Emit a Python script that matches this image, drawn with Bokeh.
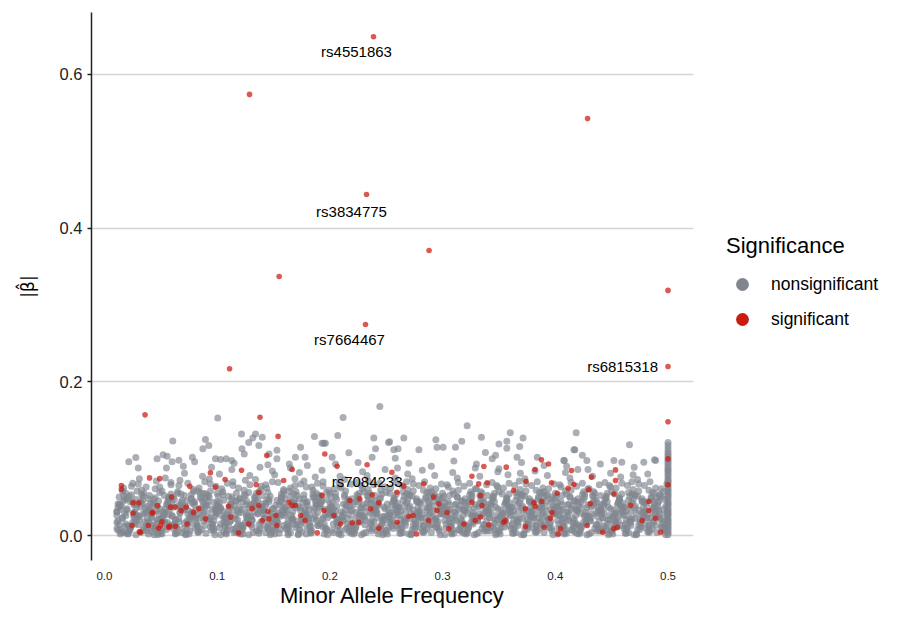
import numpy as np
from bokeh.plotting import figure
from bokeh.layouts import row
from bokeh.models import ColumnDataSource, Legend, LegendItem, FixedTicker, PrintfTickFormatter, Range1d
from bokeh.core.properties import value
from bokeh.embed import file_html
from bokeh.resources import INLINE

FONT = "Liberation Sans"

# ---------------- data ----------------
# dense nonsignificant cloud, values in units of 0.001 (MAF, |beta|)
gray_maf_milli = [
    15, 11, 18, 13, 19, 11, 16, 12, 17, 14, 13, 18, 11, 16, 12, 19, 14, 17,
    22, 27, 20, 25, 29, 23, 28, 21, 26, 24, 29, 22, 27, 20, 25, 23, 28, 26,
    35, 31, 38, 33, 39, 30, 36, 32, 37, 34, 33, 38, 31, 36, 30, 39, 34, 37,
    42, 47, 40, 45, 49, 43, 48, 41, 46, 44, 49, 42, 47, 40, 45, 43, 48, 46,
    55, 51, 58, 53, 59, 50, 56, 52, 57, 54, 53, 58, 51, 56, 50, 59, 54, 57,
    62, 67, 60, 65, 69, 63, 68, 61, 66, 64, 69, 62, 67, 60, 65, 63, 68, 66,
    75, 71, 78, 73, 79, 70, 76, 72, 77, 74, 73, 78, 71, 76, 70, 79, 74, 77,
    82, 87, 80, 85, 89, 83, 88, 81, 86, 84, 89, 82, 87, 80, 85, 83, 88, 86,
    95, 91, 98, 93, 99, 90, 96, 92, 97, 94, 93, 98, 91, 96, 90, 99, 94, 97,
    102, 107, 100, 105, 109, 103, 108, 101, 106, 104, 109, 102, 107, 100, 105, 103, 108, 106,
    115, 111, 118, 113, 119, 110, 116, 112, 117, 114, 113, 118, 111, 116, 110, 119, 114, 117,
    122, 127, 120, 125, 129, 123, 128, 121, 126, 124, 129, 122, 127, 120, 125, 123, 128, 126,
    135, 131, 138, 133, 139, 130, 136, 132, 137, 134, 133, 138, 131, 136, 130, 139, 134, 137,
    142, 147, 140, 145, 149, 143, 148, 141, 146, 144, 149, 142, 147, 140, 145, 143, 148, 146,
    155, 151, 158, 153, 159, 150, 156, 152, 157, 154, 153, 158, 151, 156, 150, 159, 154, 157,
    162, 167, 160, 165, 169, 163, 168, 161, 166, 164, 169, 162, 167, 160, 165, 163, 168, 166,
    175, 171, 178, 173, 179, 170, 176, 172, 177, 174, 173, 178, 171, 176, 170, 179, 174, 177,
    182, 187, 180, 185, 189, 183, 188, 181, 186, 184, 189, 182, 187, 180, 185, 183, 188, 186,
    195, 191, 198, 193, 199, 190, 196, 192, 197, 194, 193, 198, 191, 196, 190, 199, 194, 197,
    202, 207, 200, 205, 209, 203, 208, 201, 206, 204, 209, 202, 207, 200, 205, 203, 208, 206,
    215, 211, 218, 213, 219, 210, 216, 212, 217, 214, 213, 218, 211, 216, 210, 219, 214, 217,
    222, 227, 220, 225, 229, 223, 228, 221, 226, 224, 229, 222, 227, 220, 225, 223, 228, 226,
    235, 231, 238, 233, 239, 230, 236, 232, 237, 234, 233, 238, 231, 236, 230, 239, 234, 237,
    242, 247, 240, 245, 249, 243, 248, 241, 246, 244, 249, 242, 247, 240, 245, 243, 248, 246,
    255, 251, 258, 253, 259, 250, 256, 252, 257, 254, 253, 258, 251, 256, 250, 259, 254, 257,
    262, 267, 260, 265, 269, 263, 268, 261, 266, 264, 269, 262, 267, 260, 265, 263, 268, 266,
    275, 271, 278, 273, 279, 270, 276, 272, 277, 274, 273, 278, 271, 276, 270, 279, 274, 277,
    282, 287, 280, 285, 289, 283, 288, 281, 286, 284, 289, 282, 287, 280, 285, 283, 288, 286,
    295, 291, 298, 293, 299, 290, 296, 292, 297, 294, 293, 298, 291, 296, 290, 299, 294, 297,
    302, 307, 300, 305, 309, 303, 308, 301, 306, 304, 309, 302, 307, 300, 305, 303, 308, 306,
    315, 311, 318, 313, 319, 310, 316, 312, 317, 314, 313, 318, 311, 316, 310, 319, 314, 317,
    322, 327, 320, 325, 329, 323, 328, 321, 326, 324, 329, 322, 327, 320, 325, 323, 328, 326,
    335, 331, 338, 333, 339, 330, 336, 332, 337, 334, 333, 338, 331, 336, 330, 339, 334, 337,
    342, 347, 340, 345, 349, 343, 348, 341, 346, 344, 349, 342, 347, 340, 345, 343, 348, 346,
    355, 351, 358, 353, 359, 350, 356, 352, 357, 354, 353, 358, 351, 356, 350, 359, 354, 357,
    362, 367, 360, 365, 369, 363, 368, 361, 366, 364, 369, 362, 367, 360, 365, 363, 368, 366,
    375, 371, 378, 373, 379, 370, 376, 372, 377, 374, 373, 378, 371, 376, 370, 379, 374, 377,
    382, 387, 380, 385, 389, 383, 388, 381, 386, 384, 389, 382, 387, 380, 385, 383, 388, 386,
    395, 391, 398, 393, 399, 390, 396, 392, 397, 394, 393, 398, 391, 396, 390, 399, 394, 397,
    402, 407, 400, 405, 409, 403, 408, 401, 406, 404, 409, 402, 407, 400, 405, 403, 408, 406,
    415, 411, 418, 413, 419, 410, 416, 412, 417, 414, 413, 418, 411, 416, 410, 419, 414, 417,
    422, 427, 420, 425, 429, 423, 428, 421, 426, 424, 429, 422, 427, 420, 425, 423, 428, 426,
    435, 431, 438, 433, 439, 430, 436, 432, 437, 434, 433, 438, 431, 436, 430, 439, 434, 437,
    442, 447, 440, 445, 449, 443, 448, 441, 446, 444, 449, 442, 447, 440, 445, 443, 448, 446,
    455, 451, 458, 453, 459, 450, 456, 452, 457, 454, 453, 458, 451, 456, 450, 459, 454, 457,
    462, 467, 460, 465, 469, 463, 468, 461, 466, 464, 469, 462, 467, 460, 465, 463, 468, 466,
    475, 471, 478, 473, 479, 470, 476, 472, 477, 474, 473, 478, 471, 476, 470, 479, 474, 477,
    482, 487, 480, 485, 489, 483, 488, 481, 486, 484, 489, 482, 487, 480, 485, 483, 488, 486,
    495, 491, 498, 493, 499, 490, 496, 492, 497, 494, 493, 498, 491, 496, 490, 499, 494, 497,
]
gray_beta_milli = [
    4, 17, 29, 41, 55, 9, 23, 36, 62, 2, 14, 47, 31, 58, 7, 26, 39, 52,
    6, 19, 33, 44, 58, 12, 27, 3, 40, 64, 22, 51, 15, 35, 68, 9, 47, 30,
    11, 25, 38, 53, 2, 67, 18, 44, 31, 7, 59, 22, 74, 36, 14, 48, 28, 63,
    5, 20, 34, 49, 63, 13, 28, 42, 71, 1, 56, 24, 38, 16, 61, 9, 45, 32,
    8, 23, 37, 52, 66, 3, 17, 31, 46, 75, 27, 12, 58, 41, 20, 69, 35, 50,
    14, 29, 43, 57, 4, 21, 36, 50, 65, 10, 33, 47, 72, 25, 55, 2, 39, 18,
    2, 16, 31, 45, 60, 9, 24, 38, 53, 68, 19, 42, 81, 6, 34, 57, 28, 48,
    12, 26, 40, 55, 70, 5, 19, 33, 48, 62, 37, 15, 77, 44, 23, 58, 30, 8,
    7, 21, 35, 50, 64, 3, 15, 29, 43, 58, 74, 25, 40, 11, 54, 33, 67, 19,
    10, 24, 39, 53, 68, 1, 17, 32, 46, 61, 28, 80, 13, 44, 57, 36, 22, 5,
    4, 18, 33, 47, 62, 12, 26, 41, 55, 70, 86, 21, 37, 9, 51, 30, 65, 45,
    9, 23, 37, 52, 66, 2, 16, 30, 45, 59, 78, 34, 20, 48, 72, 13, 56, 40,
    6, 20, 35, 49, 64, 14, 28, 42, 57, 73, 31, 89, 11, 46, 24, 60, 38, 3,
    13, 27, 41, 56, 70, 4, 18, 33, 47, 62, 84, 22, 51, 37, 9, 66, 29, 44,
    3, 17, 32, 46, 60, 11, 25, 39, 54, 69, 20, 43, 79, 8, 35, 58, 27, 50,
    8, 22, 36, 51, 65, 1, 15, 29, 44, 58, 74, 33, 19, 48, 62, 12, 40, 26,
    5, 19, 34, 48, 63, 10, 24, 38, 53, 67, 82, 28, 14, 43, 57, 2, 36, 71,
    11, 25, 39, 54, 68, 6, 20, 34, 49, 63, 30, 16, 76, 44, 59, 3, 41, 22,
    2, 16, 30, 45, 59, 13, 27, 41, 56, 70, 85, 23, 37, 9, 52, 34, 64, 47,
    7, 21, 36, 50, 64, 4, 18, 32, 47, 61, 77, 26, 12, 42, 55, 29, 69, 38,
    10, 24, 38, 53, 67, 1, 15, 29, 44, 58, 73, 33, 20, 47, 62, 6, 40, 27,
    4, 18, 32, 47, 61, 12, 26, 40, 55, 69, 83, 22, 36, 8, 51, 30, 65, 44,
    9, 23, 37, 52, 66, 3, 17, 31, 46, 60, 78, 28, 14, 42, 57, 34, 71, 20,
    6, 20, 34, 49, 63, 11, 25, 39, 54, 68, 86, 30, 16, 45, 59, 2, 37, 24,
    12, 26, 40, 55, 69, 5, 19, 33, 48, 62, 27, 75, 41, 9, 56, 35, 21, 46,
    3, 17, 31, 46, 60, 8, 22, 36, 51, 65, 80, 27, 13, 42, 57, 32, 70, 19,
    8, 22, 36, 51, 65, 2, 15, 29, 44, 58, 74, 24, 38, 11, 53, 31, 67, 45,
    5, 19, 33, 48, 62, 13, 27, 41, 56, 70, 30, 85, 17, 44, 23, 59, 37, 9,
    10, 24, 38, 53, 67, 4, 18, 32, 47, 61, 78, 28, 14, 43, 57, 35, 21, 50,
    1, 15, 29, 44, 58, 9, 23, 37, 52, 66, 82, 20, 34, 48, 63, 27, 12, 40,
    7, 21, 35, 50, 64, 3, 16, 30, 45, 59, 75, 26, 40, 12, 54, 33, 69, 19,
    4, 18, 32, 47, 61, 11, 25, 39, 54, 68, 88, 29, 15, 43, 57, 36, 22, 50,
    9, 23, 37, 52, 66, 2, 14, 28, 43, 57, 77, 31, 19, 46, 61, 6, 39, 25,
    6, 20, 34, 49, 63, 12, 26, 40, 55, 69, 83, 23, 37, 9, 51, 30, 65, 44,
    11, 25, 39, 54, 68, 5, 19, 33, 48, 62, 28, 79, 15, 42, 57, 35, 21, 47,
    3, 17, 31, 46, 60, 8, 22, 36, 51, 65, 81, 27, 13, 42, 56, 32, 71, 19,
    8, 22, 36, 51, 65, 1, 15, 29, 44, 58, 74, 24, 38, 11, 53, 31, 67, 45,
    5, 19, 33, 48, 62, 13, 27, 41, 56, 70, 30, 84, 17, 44, 23, 59, 37, 9,
    10, 24, 38, 53, 67, 4, 18, 32, 47, 61, 78, 28, 14, 43, 57, 35, 21, 50,
    2, 15, 29, 44, 58, 9, 23, 37, 52, 66, 82, 20, 34, 48, 63, 27, 12, 40,
    7, 21, 35, 50, 64, 3, 16, 30, 45, 59, 75, 26, 40, 12, 54, 33, 69, 19,
    4, 18, 32, 47, 61, 11, 25, 39, 54, 68, 86, 29, 15, 43, 57, 36, 22, 50,
    9, 23, 37, 52, 66, 2, 14, 28, 43, 57, 77, 31, 19, 46, 61, 6, 39, 25,
    6, 20, 34, 49, 63, 12, 26, 40, 55, 69, 81, 23, 37, 9, 51, 30, 65, 44,
    11, 25, 39, 54, 68, 5, 19, 33, 48, 62, 28, 76, 15, 42, 57, 35, 21, 47,
    3, 17, 31, 46, 60, 8, 22, 36, 51, 65, 79, 27, 13, 42, 56, 32, 70, 19,
    8, 22, 36, 51, 65, 1, 15, 29, 44, 58, 73, 24, 38, 11, 53, 31, 67, 45,
    5, 19, 33, 48, 62, 13, 27, 41, 56, 70, 30, 80, 17, 44, 23, 59, 37, 9,
    10, 24, 38, 53, 67, 4, 18, 32, 47, 61, 28, 14, 43, 57, 35, 21, 50, 7,
]

# second, lower layer of the dense cloud (units of 0.001)
gray2_maf_milli = [
    11, 14, 17, 12, 19, 15, 11, 18, 13, 16, 17, 12, 19, 14,
    23, 28, 21, 26, 20, 25, 29, 22, 27, 24, 21, 26, 23, 28,
    30, 34, 37, 32, 39, 35, 31, 38, 33, 36, 37, 32, 39, 34,
    43, 48, 41, 46, 40, 45, 49, 42, 47, 44, 41, 46, 43, 48,
    50, 54, 57, 52, 59, 55, 51, 58, 53, 56, 57, 52, 59, 54,
    63, 68, 61, 66, 60, 65, 69, 62, 67, 64, 61, 66, 63, 68,
    70, 74, 77, 72, 79, 75, 71, 78, 73, 76, 77, 72, 79, 74,
    83, 88, 81, 86, 80, 85, 89, 82, 87, 84, 81, 86, 83, 88,
    90, 94, 97, 92, 99, 95, 91, 98, 93, 96, 97, 92, 99, 94,
    103, 108, 101, 106, 100, 105, 109, 102, 107, 104, 101, 106, 103, 108,
    110, 114, 117, 112, 119, 115, 111, 118, 113, 116, 117, 112, 119, 114,
    123, 128, 121, 126, 120, 125, 129, 122, 127, 124, 121, 126, 123, 128,
    130, 134, 137, 132, 139, 135, 131, 138, 133, 136, 137, 132, 139, 134,
    143, 148, 141, 146, 140, 145, 149, 142, 147, 144, 141, 146, 143, 148,
    150, 154, 157, 152, 159, 155, 151, 158, 153, 156, 157, 152, 159, 154,
    163, 168, 161, 166, 160, 165, 169, 162, 167, 164, 161, 166, 163, 168,
    170, 174, 177, 172, 179, 175, 171, 178, 173, 176, 177, 172, 179, 174,
    183, 188, 181, 186, 180, 185, 189, 182, 187, 184, 181, 186, 183, 188,
    190, 194, 197, 192, 199, 195, 191, 198, 193, 196, 197, 192, 199, 194,
    203, 208, 201, 206, 200, 205, 209, 202, 207, 204, 201, 206, 203, 208,
    210, 214, 217, 212, 219, 215, 211, 218, 213, 216, 217, 212, 219, 214,
    223, 228, 221, 226, 220, 225, 229, 222, 227, 224, 221, 226, 223, 228,
    230, 234, 237, 232, 239, 235, 231, 238, 233, 236, 237, 232, 239, 234,
    243, 248, 241, 246, 240, 245, 249, 242, 247, 244, 241, 246, 243, 248,
    250, 254, 257, 252, 259, 255, 251, 258, 253, 256, 257, 252, 259, 254,
    263, 268, 261, 266, 260, 265, 269, 262, 267, 264, 261, 266, 263, 268,
    270, 274, 277, 272, 279, 275, 271, 278, 273, 276, 277, 272, 279, 274,
    283, 288, 281, 286, 280, 285, 289, 282, 287, 284, 281, 286, 283, 288,
    290, 294, 297, 292, 299, 295, 291, 298, 293, 296, 297, 292, 299, 294,
    303, 308, 301, 306, 300, 305, 309, 302, 307, 304, 301, 306, 303, 308,
    310, 314, 317, 312, 319, 315, 311, 318, 313, 316, 317, 312, 319, 314,
    323, 328, 321, 326, 320, 325, 329, 322, 327, 324, 321, 326, 323, 328,
    330, 334, 337, 332, 339, 335, 331, 338, 333, 336, 337, 332, 339, 334,
    343, 348, 341, 346, 340, 345, 349, 342, 347, 344, 341, 346, 343, 348,
    350, 354, 357, 352, 359, 355, 351, 358, 353, 356, 357, 352, 359, 354,
    363, 368, 361, 366, 360, 365, 369, 362, 367, 364, 361, 366, 363, 368,
    370, 374, 377, 372, 379, 375, 371, 378, 373, 376, 377, 372, 379, 374,
    383, 388, 381, 386, 380, 385, 389, 382, 387, 384, 381, 386, 383, 388,
    390, 394, 397, 392, 399, 395, 391, 398, 393, 396, 397, 392, 399, 394,
    403, 408, 401, 406, 400, 405, 409, 402, 407, 404, 401, 406, 403, 408,
    410, 414, 417, 412, 419, 415, 411, 418, 413, 416, 417, 412, 419, 414,
    423, 428, 421, 426, 420, 425, 429, 422, 427, 424, 421, 426, 423, 428,
    430, 434, 437, 432, 439, 435, 431, 438, 433, 436, 437, 432, 439, 434,
    443, 448, 441, 446, 440, 445, 449, 442, 447, 444, 441, 446, 443, 448,
    450, 454, 457, 452, 459, 455, 451, 458, 453, 456, 457, 452, 459, 454,
    463, 468, 461, 466, 460, 465, 469, 462, 467, 464, 461, 466, 463, 468,
    470, 474, 477, 472, 479, 475, 471, 478, 473, 476, 477, 472, 479, 474,
    483, 488, 481, 486, 480, 485, 489, 482, 487, 484, 481, 486, 483, 488,
    490, 494, 497, 492, 499, 495, 491, 498, 493, 496, 497, 492, 499, 494,
]
gray2_beta_milli = [
    31, 8, 45, 19, 3, 38, 26, 12, 50, 22, 5, 41, 15, 34,
    10, 36, 2, 27, 48, 17, 40, 7, 30, 53, 13, 24, 44, 1,
    25, 46, 14, 4, 33, 55, 20, 9, 42, 29, 6, 37, 18, 51,
    42, 3, 28, 16, 52, 11, 35, 23, 1, 47, 32, 8, 39, 21,
    7, 30, 49, 24, 13, 40, 2, 34, 18, 44, 27, 10, 54, 16,
    20, 54, 9, 39, 26, 4, 46, 15, 31, 11, 37, 22, 3, 43,
    36, 14, 27, 2, 43, 21, 52, 30, 8, 17, 48, 1, 25, 33,
    4, 41, 19, 33, 10, 50, 13, 27, 45, 6, 23, 36, 12, 55,
    49, 23, 6, 45, 30, 15, 38, 1, 21, 34, 9, 52, 28, 11,
    15, 2, 38, 22, 55, 32, 7, 43, 12, 26, 51, 17, 35, 4,
    31, 8, 45, 19, 3, 38, 26, 12, 50, 22, 5, 41, 15, 34,
    10, 36, 2, 27, 48, 17, 40, 7, 30, 53, 13, 24, 44, 1,
    25, 46, 14, 4, 33, 55, 20, 9, 42, 29, 6, 37, 18, 51,
    42, 3, 28, 16, 52, 11, 35, 23, 1, 47, 32, 8, 39, 21,
    7, 30, 49, 24, 13, 40, 2, 34, 18, 44, 27, 10, 54, 16,
    20, 54, 9, 39, 26, 4, 46, 15, 31, 11, 37, 22, 3, 43,
    36, 14, 27, 2, 43, 21, 52, 30, 8, 17, 48, 1, 25, 33,
    4, 41, 19, 33, 10, 50, 13, 27, 45, 6, 23, 36, 12, 55,
    49, 23, 6, 45, 30, 15, 38, 1, 21, 34, 9, 52, 28, 11,
    15, 2, 38, 22, 55, 32, 7, 43, 12, 26, 51, 17, 35, 4,
    31, 8, 45, 19, 3, 38, 26, 12, 50, 22, 5, 41, 15, 34,
    10, 36, 2, 27, 48, 17, 40, 7, 30, 53, 13, 24, 44, 1,
    25, 46, 14, 4, 33, 55, 20, 9, 42, 29, 6, 37, 18, 51,
    42, 3, 28, 16, 52, 11, 35, 23, 1, 47, 32, 8, 39, 21,
    7, 30, 49, 24, 13, 40, 2, 34, 18, 44, 27, 10, 54, 16,
    20, 54, 9, 39, 26, 4, 46, 15, 31, 11, 37, 22, 3, 43,
    36, 14, 27, 2, 43, 21, 52, 30, 8, 17, 48, 1, 25, 33,
    4, 41, 19, 33, 10, 50, 13, 27, 45, 6, 23, 36, 12, 55,
    49, 23, 6, 45, 30, 15, 38, 1, 21, 34, 9, 52, 28, 11,
    15, 2, 38, 22, 55, 32, 7, 43, 12, 26, 51, 17, 35, 4,
    31, 8, 45, 19, 3, 38, 26, 12, 50, 22, 5, 41, 15, 34,
    10, 36, 2, 27, 48, 17, 40, 7, 30, 53, 13, 24, 44, 1,
    25, 46, 14, 4, 33, 55, 20, 9, 42, 29, 6, 37, 18, 51,
    42, 3, 28, 16, 52, 11, 35, 23, 1, 47, 32, 8, 39, 21,
    7, 30, 49, 24, 13, 40, 2, 34, 18, 44, 27, 10, 54, 16,
    20, 54, 9, 39, 26, 4, 46, 15, 31, 11, 37, 22, 3, 43,
    36, 14, 27, 2, 43, 21, 52, 30, 8, 17, 48, 1, 25, 33,
    4, 41, 19, 33, 10, 50, 13, 27, 45, 6, 23, 36, 12, 55,
    49, 23, 6, 45, 30, 15, 38, 1, 21, 34, 9, 52, 28, 11,
    15, 2, 38, 22, 55, 32, 7, 43, 12, 26, 51, 17, 35, 4,
    31, 8, 45, 19, 3, 38, 26, 12, 50, 22, 5, 41, 15, 34,
    10, 36, 2, 27, 48, 17, 40, 7, 30, 53, 13, 24, 44, 1,
    25, 46, 14, 4, 33, 55, 20, 9, 42, 29, 6, 37, 18, 51,
    42, 3, 28, 16, 52, 11, 35, 23, 1, 47, 32, 8, 39, 21,
    7, 30, 49, 24, 13, 40, 2, 34, 18, 44, 27, 10, 54, 16,
    20, 54, 9, 39, 26, 4, 46, 15, 31, 11, 37, 22, 3, 43,
    36, 14, 27, 2, 43, 21, 52, 30, 8, 17, 48, 1, 25, 33,
    4, 41, 19, 33, 10, 50, 13, 27, 45, 6, 23, 36, 12, 55,
    49, 23, 6, 45, 30, 15, 38, 1, 21, 34, 9, 52, 28, 11,
]

# stack of nonsignificant SNPs at MAF = 0.5 (|beta| in units of 0.001)
gray_col_beta_milli = [1, 4, 6, 9, 11, 14, 16, 19, 21, 24, 27, 29, 32, 34, 37, 40, 42, 45,
                       48, 51, 53, 56, 59, 61, 64, 67, 70, 72, 75, 78, 81, 84, 86, 89, 92,
                       95, 98, 100, 103, 106, 109, 113, 117, 121]

# scattered nonsignificant points above the cloud
gray_top_maf = [0.1005, 0.0606, 0.0896, 0.0216, 0.0278, 0.1216, 0.134, 0.1316, 0.140, 0.0873,
                0.0926, 0.122, 0.128, 0.153, 0.0467, 0.052, 0.0556, 0.060, 0.066, 0.078,
                0.080, 0.0985, 0.103, 0.108, 0.113, 0.124, 0.137, 0.146, 0.153, 0.164,
                0.2443, 0.2117, 0.1863, 0.174, 0.1946, 0.207, 0.239, 0.253, 0.2656, 0.3218,
                0.294, 0.3345, 0.317, 0.2405, 0.2567, 0.2605, 0.279, 0.295, 0.3005, 0.3114,
                0.2168, 0.202, 0.178, 0.1694, 0.2375, 0.258, 0.338, 0.360, 0.4185, 0.350,
                0.357, 0.3714, 0.3684, 0.357, 0.4173, 0.4658, 0.366, 0.384, 0.408, 0.424,
                0.428, 0.488, 0.344, 0.347, 0.452, 0.459, 0.4785, 0.489, 0.4165, 0.4075,
                0.193, 0.252, 0.196, 0.030, 0.070, 0.115, 0.145, 0.180, 0.205, 0.225,
                0.270, 0.290, 0.310, 0.330, 0.370, 0.390, 0.410, 0.440, 0.470, 0.260,
                0.350, 0.420, 0.165, 0.095, 0.055]
gray_top_beta = [0.153, 0.123, 0.125, 0.096, 0.1015, 0.132, 0.132, 0.127, 0.128, 0.113,
                 0.117, 0.113, 0.121, 0.111, 0.100, 0.105, 0.103, 0.096, 0.098, 0.102,
                 0.096, 0.0998, 0.099, 0.0998, 0.0976, 0.106, 0.117, 0.106, 0.0998, 0.093,
                 0.168, 0.1535, 0.129, 0.115, 0.120, 0.130, 0.127, 0.122, 0.127, 0.143,
                 0.1245, 0.128, 0.1227, 0.113, 0.1115, 0.113, 0.1115, 0.115, 0.115, 0.115,
                 0.1076, 0.102, 0.102, 0.102, 0.102, 0.1006, 0.108, 0.1336, 0.1336, 0.119,
                 0.1227, 0.127, 0.1158, 0.1136, 0.1115, 0.118, 0.102, 0.102, 0.0976, 0.1045,
                 0.0976, 0.0985, 0.0998, 0.1045, 0.0976, 0.0954, 0.0954, 0.0976, 0.1115, 0.0976,
                 0.120, 0.121, 0.120, 0.088, 0.090, 0.094, 0.092, 0.091, 0.093, 0.095,
                 0.094, 0.090, 0.097, 0.093, 0.095, 0.091, 0.090, 0.093, 0.089, 0.088,
                 0.087, 0.086, 0.088, 0.089, 0.088]

# significant SNPs
sig_maf = [0.2387, 0.1287, 0.4286, 0.2325, 0.288, 0.155, 0.5, 0.2316, 0.5, 0.111,
           0.036, 0.138, 0.5, 0.154,
           0.144, 0.1216, 0.040, 0.049, 0.094, 0.015, 0.015, 0.0757, 0.0985, 0.107,
           0.137, 0.0254, 0.0304, 0.043, 0.047, 0.0586, 0.063, 0.068, 0.0725, 0.0595,
           0.079, 0.0836, 0.110, 0.112, 0.039, 0.031, 0.051, 0.0577, 0.063, 0.0733,
           0.048, 0.0896, 0.119, 0.128, 0.140, 0.146, 0.152, 0.153, 0.131, 0.137,
           0.145, 0.1636, 0.1665, 0.159, 0.1346,
           0.1955, 0.2064, 0.233, 0.255, 0.2833, 0.1665, 0.3366, 0.326, 0.332, 0.3336,
           0.193, 0.2375, 0.1694, 0.1946, 0.2177, 0.2265, 0.2434, 0.236, 0.174, 0.178,
           0.2035, 0.2094, 0.2434, 0.2198, 0.2257, 0.1888, 0.2596, 0.270, 0.2738, 0.2877,
           0.295, 0.304, 0.2768, 0.3055, 0.319, 0.329, 0.3336, 0.326, 0.335, 0.292,
           0.2966, 0.2656, 0.2596,
           0.3877, 0.394, 0.3565, 0.382, 0.4144, 0.4534, 0.374, 0.3966, 0.4165, 0.432,
           0.4534, 0.5, 0.5, 0.3396, 0.363, 0.4017, 0.4297, 0.4114, 0.483, 0.452,
           0.381, 0.388, 0.431, 0.4667, 0.3735, 0.3824, 0.483, 0.4889, 0.397, 0.3957,
           0.3543, 0.3558, 0.341, 0.3735, 0.39, 0.4025, 0.4046, 0.4283, 0.442, 0.452,
           0.455, 0.477, 0.4933,
           0.032, 0.0497, 0.057, 0.0245, 0.0254, 0.0423]
sig_beta = [0.649, 0.574, 0.5426, 0.4437, 0.371, 0.337, 0.319, 0.2746, 0.220, 0.217,
            0.157, 0.154, 0.148, 0.129,
            0.104, 0.085, 0.075, 0.074, 0.0816, 0.065, 0.060, 0.064, 0.063, 0.073,
            0.056, 0.0425, 0.0425, 0.0303, 0.039, 0.037, 0.037, 0.0325, 0.037, 0.050,
            0.030, 0.035, 0.038, 0.024, 0.013, 0.005, 0.018, 0.012, 0.012, 0.015,
            0.0095, 0.0217, 0.0035, 0.015, 0.0195, 0.0217, 0.026, 0.013, 0.035, 0.039,
            0.0316, 0.0434, 0.039, 0.0716, 0.066,
            0.106, 0.090, 0.092, 0.0824, 0.0672, 0.086, 0.0898, 0.077, 0.0672, 0.052,
            0.052, 0.053, 0.039, 0.0325, 0.0455, 0.0477, 0.0425, 0.0347, 0.026, 0.0195,
            0.026, 0.015, 0.0095, 0.0166, 0.0173, 0.0035, 0.0173, 0.025, 0.026, 0.0195,
            0.0325, 0.030, 0.002, 0.0087, 0.015, 0.0195, 0.024, 0.0434, 0.039, 0.050,
            0.0412, 0.064, 0.0564,
            0.0985, 0.093, 0.089, 0.086, 0.0846, 0.0854, 0.0707, 0.0686, 0.0664, 0.076,
            0.0716, 0.0998, 0.066, 0.0686, 0.0586, 0.055, 0.0595, 0.0616, 0.0443, 0.054,
            0.0425, 0.0443, 0.0412, 0.039, 0.0347, 0.0377, 0.0325, 0.0225, 0.030, 0.0225,
            0.0173, 0.0195, 0.0139, 0.0117, 0.0108, 0.002, 0.0087, 0.013, 0.0043, 0.0087,
            0.0108, 0.0195, 0.0043,
            0.0043, 0.013, 0.0108, 0.013, 0.029, 0.029]

# labelled SNPs
label_names = ["rs4551863", "rs3834775", "rs7664467", "rs7084233", "rs6815318"]
label_maf = [0.2387, 0.2325, 0.2316, 0.233, 0.5]
label_beta = [0.649, 0.4437, 0.2746, 0.092, 0.220]

# legend entries
legend_title = "Significance"
legend_labels = ["nonsignificant", "significant"]

# tick positions
x_ticks = [0.0, 0.1, 0.2, 0.3, 0.4, 0.5]
y_ticks = [0.0, 0.2, 0.4, 0.6]

# ---------------- build ----------------
n1 = min(len(gray_maf_milli), len(gray_beta_milli))
n2 = min(len(gray2_maf_milli), len(gray2_beta_milli))
n3 = min(len(gray_top_maf), len(gray_top_beta))
gx = np.concatenate([np.array(gray2_maf_milli[:n2]) / 1000.0,
                     np.array(gray_maf_milli[:n1]) / 1000.0,
                     np.full(len(gray_col_beta_milli), 0.5),
                     np.array(gray_top_maf[:n3])])
gy = np.concatenate([np.array(gray2_beta_milli[:n2]) / 1000.0,
                     np.array(gray_beta_milli[:n1]) / 1000.0,
                     np.array(gray_col_beta_milli) / 1000.0,
                     np.array(gray_top_beta[:n3])])
m = min(len(sig_maf), len(sig_beta))

GRAY = "#7f868e"
RED = "#cc1a10"
H = 615

p = figure(width=700, height=H, x_range=(-0.0115, 0.5226), y_range=(-0.0325, 0.6806),
           output_backend="svg", toolbar_location=None,
           min_border_left=91, min_border_right=7, min_border_top=12, min_border_bottom=55)
p.outline_line_color = None
p.background_fill_color = "white"
p.border_fill_color = "white"

p.xgrid.visible = False
p.ygrid.grid_line_color = "#d4d4d4"
p.ygrid.grid_line_width = 1.5

p.yaxis.ticker = FixedTicker(ticks=y_ticks)
p.xaxis.ticker = FixedTicker(ticks=x_ticks)
p.yaxis.formatter = PrintfTickFormatter(format="%.1f")
p.xaxis.formatter = PrintfTickFormatter(format="%.1f")

p.xaxis.axis_line_color = None
p.xaxis.major_tick_line_color = None
p.xaxis.minor_tick_line_color = None
p.xaxis.major_label_text_font = FONT
p.xaxis.major_label_text_font_size = "11.5px"
p.xaxis.major_label_text_color = "#222222"
p.xaxis.major_label_standoff = 5
p.xaxis.axis_label = "Minor Allele Frequency"
p.xaxis.axis_label_text_font = FONT
p.xaxis.axis_label_text_font_size = "22px"
p.xaxis.axis_label_text_font_style = "normal"
p.xaxis.axis_label_text_color = "black"
p.xaxis.axis_label_standoff = 0

p.yaxis.axis_line_color = "#222222"
p.yaxis.axis_line_width = 1.5
p.yaxis.major_tick_line_color = "#222222"
p.yaxis.major_tick_line_width = 1.5
p.yaxis.major_tick_out = 4
p.yaxis.major_tick_in = 0
p.yaxis.minor_tick_line_color = None
p.yaxis.major_label_text_font = FONT
p.yaxis.major_label_text_font_size = "16.5px"
p.yaxis.major_label_text_color = "#222222"
p.yaxis.major_label_standoff = 5
p.yaxis.axis_label = "|\u03b2\u0302|"
p.yaxis.axis_label_text_font = "DejaVu Sans"
p.yaxis.axis_label_text_font_size = "17px"
p.yaxis.axis_label_text_font_style = "normal"
p.yaxis.axis_label_text_color = "black"
p.yaxis.axis_label_standoff = 19

gsrc = ColumnDataSource(dict(x=gx, y=gy))
p.scatter("x", "y", source=gsrc, size=7, fill_color=GRAY, fill_alpha=0.66, line_color=None)

rsrc = ColumnDataSource(dict(x=sig_maf[:m], y=sig_beta[:m]))
p.scatter("x", "y", source=rsrc, size=5.6, fill_color=RED, fill_alpha=0.72, line_color=None)

# labels
c_idx = [0, 1, 2, 3]
csrc = ColumnDataSource(dict(x=[label_maf[i] for i in c_idx], y=[label_beta[i] for i in c_idx],
                             t=[label_names[i] for i in c_idx],
                             dx=[-17, -15, -16, 0], dy=[15, 17, 15, 17]))
p.text("x", "y", text="t", source=csrc, x_offset="dx", y_offset="dy",
       text_align="center", text_baseline="middle",
       text_font=value(FONT), text_font_size="15px", text_color="black")
rsrc2 = ColumnDataSource(dict(x=[label_maf[4]], y=[label_beta[4]], t=[label_names[4]]))
p.text("x", "y", text="t", source=rsrc2, x_offset=-10, y_offset=0,
       text_align="right", text_baseline="middle",
       text_font=value(FONT), text_font_size="15px", text_color="black")

# legend panel: a bare figure whose whole area is the frame
lf = figure(width=190, height=H, x_range=Range1d(0, 1), y_range=Range1d(0, 1),
            output_backend="svg", toolbar_location=None,
            min_border=0, min_border_left=0, min_border_right=0,
            min_border_top=0, min_border_bottom=0)
lf.axis.visible = False
lf.grid.visible = False
lf.outline_line_color = None
lf.background_fill_color = "white"
lf.border_fill_color = "white"
proxy = ColumnDataSource(dict(x=[np.nan], y=[np.nan]))
lg = lf.scatter("x", "y", source=proxy, size=13, fill_color=GRAY, line_color=None)
lr = lf.scatter("x", "y", source=proxy, size=13, fill_color=RED, line_color=None)
legend = Legend(items=[LegendItem(label=legend_labels[0], renderers=[lg]),
                       LegendItem(label=legend_labels[1], renderers=[lr])],
                location=(26, 225), title=legend_title,
                title_text_font=FONT, title_text_font_size="22px", title_text_font_style="normal",
                title_text_color="black", title_standoff=9,
                label_text_font=FONT, label_text_font_size="17.5px", label_text_color="black",
                glyph_width=32, glyph_height=32, label_standoff=13, spacing=3,
                padding=0, margin=0, border_line_color=None, background_fill_alpha=0)
lf.add_layout(legend)

open("out.html", "w").write(file_html(row(p, lf), INLINE))
